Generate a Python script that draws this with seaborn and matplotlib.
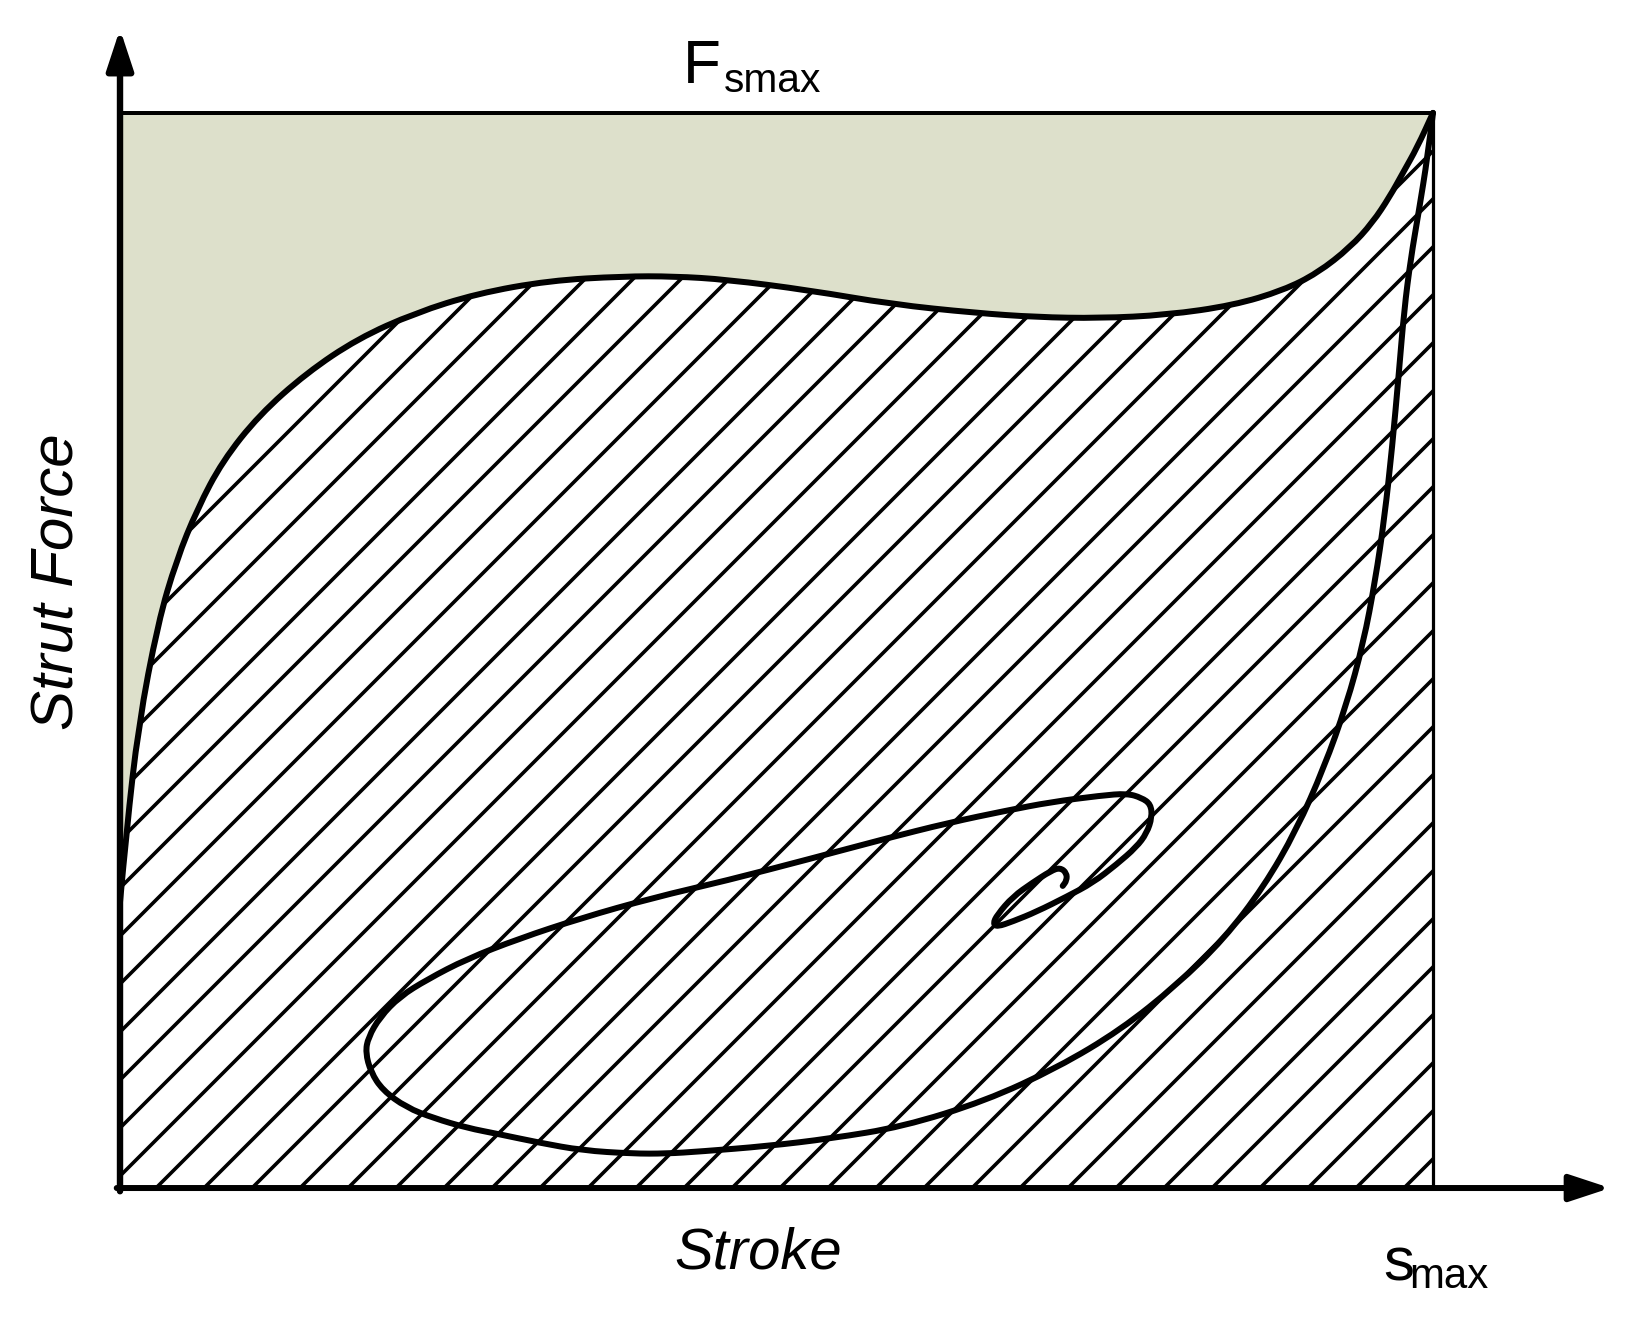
import matplotlib
matplotlib.use("Agg")
import matplotlib.pyplot as plt
from matplotlib.path import Path
from matplotlib.patches import PathPatch
import seaborn as sns

# stroke / force as % of s_max / F_smax
upper_x = [0, 0.5, 1.4, 2.9, 4.3, 5.9, 7.8, 10.6, 14.2, 18.1, 22.5, 27.2, 32.7, 38.3,
           42.2, 46.2, 52.5, 58.8, 65.1, 69.8, 74.6, 79.7, 84.8, 88.6, 91.2, 93.7,
           95.4, 96.7, 97.7, 98.8, 100]
upper_y = [26.6, 33.3, 43.0, 52.6, 58.4, 63.2, 67.6, 71.9, 75.8, 79.0, 81.4, 83.2, 84.4, 84.8,
           84.8, 84.5, 83.5, 82.2, 81.4, 81.0, 80.9, 81.2, 82.1, 83.5, 85.1, 87.5,
           89.8, 92.2, 94.4, 96.8, 100]

# descending branch from the corner into the loop and the inner spiral
loop_x = [100, 99.6, 98.9, 98.3, 97.8, 97.4, 96.9, 96.3, 95.6, 94.7, 93.4, 91.7, 89.6, 87.1,
          84.1, 80.5, 76.2, 71.4, 65.9, 59.6, 54.1, 49.3, 44.2, 41.6, 39.0, 35.2, 32.0,
          28.9, 26.4, 23.9, 21.8, 20.0, 19.1, 18.7, 18.9, 19.8, 21.3, 23.4, 26.4, 30.4,
          35.1, 40.6, 46.2, 52.5, 58.0, 63.2, 67.5, 70.9, 74.7, 76.7, 77.8, 78.5, 78.6,
          78.2, 77.4, 75.9, 74.1, 72.1, 69.8, 68.0, 66.8, 66.5, 66.8, 68.0, 69.5, 70.9,
          71.6, 72.1, 72.1, 71.8]
loop_y = [100, 96.0, 90.7, 86.4, 81.6, 75.8, 69.0, 62.3, 56.5, 50.7, 44.9, 39.1, 33.3, 28.0,
          23.2, 18.9, 14.7, 11.2, 8.1, 5.7, 4.6, 3.9, 3.4, 3.2, 3.2, 3.5, 4.2,
          5.0, 5.6, 6.5, 7.5, 9.1, 10.8, 12.6, 14.0, 15.9, 17.8, 19.4, 21.3, 23.2,
          25.1, 27.0, 28.6, 30.6, 32.4, 34.0, 35.1, 35.9, 36.5, 36.7, 36.3, 35.7, 34.5,
          33.0, 31.7, 30.1, 28.4, 27.1, 25.7, 24.8, 24.3, 24.6, 25.4, 27.1, 28.4, 29.5,
          29.8, 29.3, 28.6, 28.1]

S_MAX = 100
F_MAX = 100
GREEN_FILL = "#dde0cb"

sns.set_style("white")
plt.rcParams["font.family"] = ["Liberation Sans", "DejaVu Sans"]
plt.rcParams["text.color"] = "black"
plt.rcParams["hatch.linewidth"] = 0.9
plt.rcParams["hatch.color"] = "black"


def smooth(xs, ys):
    # quadratic bezier through the midpoints, read points act as controls
    verts = [(xs[0], ys[0])]
    codes = [Path.MOVETO]
    for i in range(1, len(xs) - 1):
        verts += [(xs[i], ys[i]), ((xs[i] + xs[i + 1]) / 2, (ys[i] + ys[i + 1]) / 2)]
        codes += [Path.CURVE3, Path.CURVE3]
    verts.append((xs[-1], ys[-1]))
    codes.append(Path.LINETO)
    return verts, codes


DPI = 288
fig = plt.figure(figsize=(1626 / DPI, 1325 / DPI), dpi=DPI)
ax = fig.add_axes([0, 0, 1, 1])
ax.set_xlim(-9.14, 114.7)
ax.set_ylim(-12.74, 110.5)
ax.axis("off")

uv, uc = smooth(upper_x, upper_y)
lv, lc = smooth(loop_x, loop_y)

# green band above the envelope, hatched region below it
green = Path(uv + [(0, F_MAX), (0, upper_y[0])], uc + [Path.LINETO, Path.CLOSEPOLY])
hatched = Path(uv + [(S_MAX, 0), (0, 0), (0, upper_y[0])],
               uc + [Path.LINETO, Path.LINETO, Path.CLOSEPOLY])
ax.add_patch(PathPatch(green, facecolor=GREEN_FILL, lw=0))
ax.add_patch(PathPatch(hatched, facecolor="white", edgecolor="black", hatch="//", lw=0))

# force-stroke curve
for v, c in [(uv, uc), (lv, lc)]:
    ax.add_patch(PathPatch(Path(v, c), facecolor="none", edgecolor="black", lw=1.5,
                           joinstyle="round", capstyle="round"))

# limits
ax.plot([0, S_MAX], [F_MAX, F_MAX], color="black", lw=1.0, solid_capstyle="butt")
ax.plot([S_MAX, S_MAX], [0, F_MAX], color="black", lw=0.8, solid_capstyle="butt")

# axes with arrows
arr = dict(arrowstyle="-|>,head_length=0.85,head_width=0.28", mutation_scale=10,
           color="black", shrinkA=0, shrinkB=0)
ax.annotate("", xy=(0, 107.8), xytext=(0, -0.3), arrowprops=dict(arr, lw=1.6))
ax.annotate("", xy=(113.5, 0), xytext=(-0.25, 0), arrowprops=dict(arr, lw=1.5))

# labels
ax.text(42.9, 102.8, "F", fontsize=15.5, ha="left", va="baseline")
ax.text(46.0, 101.95, "smax", fontsize=10.2, ha="left", va="baseline")
ax.text(96.2, -8.56, "s", fontsize=15.5, ha="left", va="baseline")
ax.text(98.2, -9.3, "max", fontsize=10.5, ha="left", va="baseline")
ax.text(48.6, -7.44, "Stroke", fontsize=14.5, style="italic", ha="center", va="baseline")
ax.text(-4.7, 56.4, "Strut Force", fontsize=15, style="italic", rotation=90,
        ha="center", va="center", rotation_mode="anchor")

fig.savefig("out.png", dpi=DPI)
